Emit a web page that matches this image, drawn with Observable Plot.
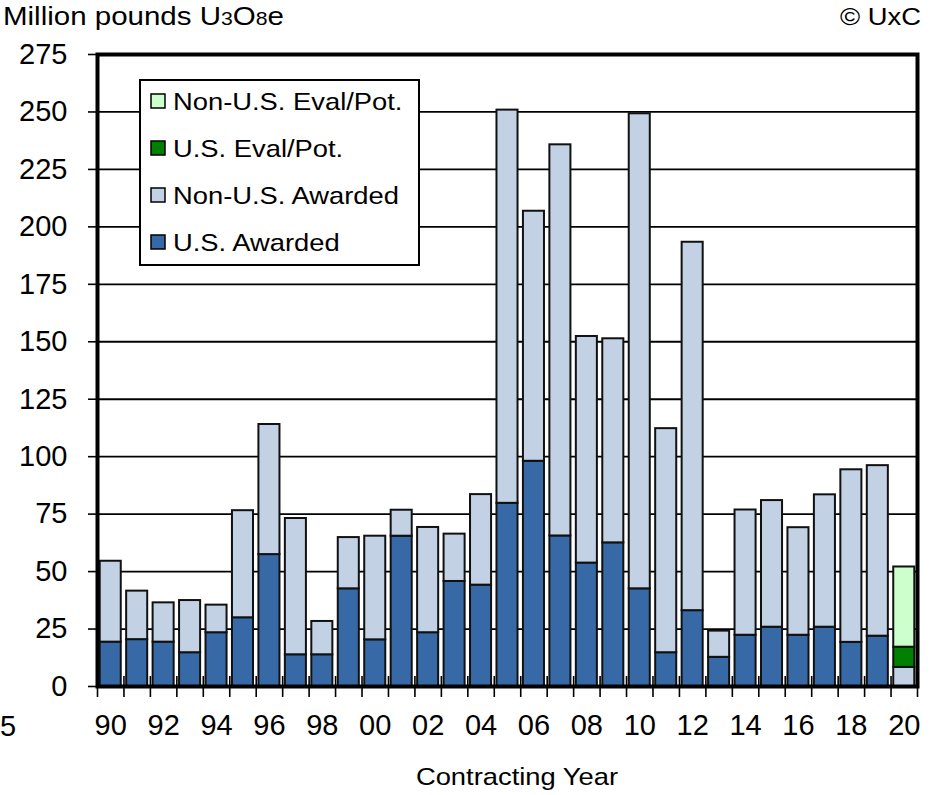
<!DOCTYPE html>
<html><head><meta charset="utf-8">
<script src="https://cdn.jsdelivr.net/npm/d3@7"></script>
<script src="https://cdn.jsdelivr.net/npm/@observablehq/plot@0.6"></script>
<style>
html,body{margin:0;padding:0;background:#fff;}
#chart{position:relative;width:933px;height:795px;}
</style></head><body><div id="chart"></div>
<script>
const years = d3.range(1990, 2021);
const usAwarded    = [19.3,20.4,19.3,14.7,23.4,29.9,57.4,13.8,13.8,42.5,20.3,65.4,23.4,45.7,44.1,79.7,98.0,65.5,53.7,62.5,42.5,14.7,33.0,12.7,22.3,25.8,22.3,25.8,19.2,21.9,0];
const nonUsAwarded = [35.2,21.1,17.1,22.7,12.0,46.6,56.6,59.3,14.5,22.3,45.1,11.3,45.8,20.6,39.4,171.1,108.8,170.2,98.6,88.8,206.7,97.5,160.3,11.4,54.5,55.1,46.8,57.6,75.1,74.2,8.3];
const usEval       = [0,0,0,0,0,0,0,0,0,0,0,0,0,0,0,0,0,0,0,0,0,0,0,0,0,0,0,0,0,0,8.8];
const nonUsEval    = [0,0,0,0,0,0,0,0,0,0,0,0,0,0,0,0,0,0,0,0,0,0,0,0,0,0,0,0,0,0,34.9];
const seriesNames  = ["U.S. Awarded","Non-U.S. Awarded","U.S. Eval/Pot.","Non-U.S. Eval/Pot."];
const seriesColors = ["#3669a6","#c3d1e4","#008000","#ccffcc"];
const yTicks = d3.range(0, 276, 25);
const xLabelYears = years.filter(y => y % 2 === 0);
const legendLabels = ["Non-U.S. Eval/Pot.","U.S. Eval/Pot.","Non-U.S. Awarded","U.S. Awarded"];

const seriesValues = [usAwarded, nonUsAwarded, usEval, nonUsEval];
const rows = [];
years.forEach((year, i) => {
  let base = 0;
  seriesNames.forEach((name, s) => {
    const v = seriesValues[s][i];
    if (v > 0) rows.push({year, series: name, y1: base, y2: base + v});
    base += v;
  });
});
const boundaries = years.map(y => y - 0.5).concat([years[years.length - 1] + 0.5]);

const FONT = "'Liberation Sans', Arial, sans-serif";
const plot = Plot.plot({
  width: 933, height: 795,
  marginLeft: 97, marginRight: 16, marginTop: 54, marginBottom: 109,
  style: {fontFamily: FONT, fontSize: "29px", color: "#000", background: "#fff", overflow: "visible"},
  x: {domain: [1989.5, 2020.5]},
  y: {domain: [0, 275]},
  color: {domain: seriesNames, range: seriesColors},
  marks: [
    Plot.gridY(yTicks.filter(t => t > 0 && t < 275), {stroke: "#000", strokeOpacity: 1, strokeWidth: 1.8}),
    Plot.rect(rows, {x1: d => d.year - 0.5, x2: d => d.year + 0.5, y1: "y1", y2: "y2", fill: "series", stroke: "#111", strokeWidth: 2, insetLeft: 2.7, insetRight: 2.7}),
    Plot.axisY(yTicks, {tickSize: 9, tickPadding: 21, strokeWidth: 1.6, label: null}),
    Plot.axisX(boundaries, {tickSize: 21, dy: -10, tickFormat: () => "", label: null, strokeWidth: 1.6}),
    Plot.axisX(xLabelYears, {tickSize: 0, tickPadding: 28, tickFormat: d => String(d % 100).padStart(2, "0"), label: null}),
    Plot.frame({stroke: "#000", strokeWidth: 4})
  ]
});
document.getElementById("chart").appendChild(plot);

const svg = d3.select(plot);
function label(parent, x, y, txt, anchor, size, sx) {
  return parent.append("text")
    .attr("transform", `translate(${x},${y}) scale(${sx},1)`)
    .attr("text-anchor", anchor)
    .attr("font-family", FONT)
    .attr("font-size", size)
    .attr("fill", "#000")
    .text(txt);
}
// title with small digits
const t = label(svg, 3, 25, "Million pounds U", "start", 25, 1.18);
t.append("tspan").attr("font-size", 18).text("3");
t.append("tspan").text("O");
t.append("tspan").attr("font-size", 18).text("8");
t.append("tspan").text("e");
label(svg, 921, 25, "© UxC", "end", 24, 1.14);
label(svg, 517, 785, "Contracting Year", "middle", 24, 1.14);
label(svg, 0, 736, "5", "start", 29, 1);

// legend
const lg = svg.append("g");
lg.append("rect").attr("x", 140).attr("y", 80).attr("width", 279).attr("height", 185)
  .attr("fill", "#fff").attr("stroke", "#000").attr("stroke-width", 2);
legendLabels.forEach((name, i) => {
  const cy = 101 + i * 47;
  lg.append("rect").attr("x", 151).attr("y", cy - 7).attr("width", 14).attr("height", 14)
    .attr("fill", seriesColors[seriesNames.indexOf(name)]).attr("stroke", "#000").attr("stroke-width", 1.5);
  label(lg, 173, cy + 8.5, name, "start", 24, 1.14);
});
</script></body></html>
